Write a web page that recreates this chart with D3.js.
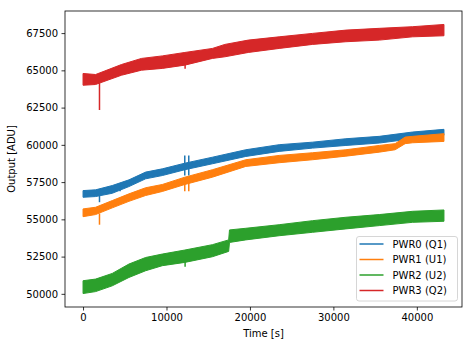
<!DOCTYPE html>
<html>
<head>
<meta charset="utf-8">
<script src="https://cdn.jsdelivr.net/npm/d3@7/dist/d3.min.js"></script>
<style>
  html, body { margin: 0; padding: 0; background: #fff; }
  svg { display: block; font-family: "DejaVu Sans", sans-serif; }
</style>
</head>
<body>
<svg id="chart" width="473" height="347"></svg>
<script>
// ---- Data: noise-band envelopes ----
const seriesNames = ["PWR0 (Q1)", "PWR1 (U1)", "PWR2 (U2)", "PWR3 (Q2)"];
const seriesColors = ["#1f77b4", "#ff7f0e", "#2ca02c", "#d62728"];

const pwr0Time = [0, 1500, 3500, 5500, 7500, 9500, 12200, 15500, 19500, 23500, 27500, 31500, 35500, 39500, 43250];
const pwr0Low  = [56480, 56530, 56750, 57200, 57720, 57940, 58330, 58730, 59220, 59560, 59780, 59960, 60120, 60410, 60640];
const pwr0High = [56930, 56980, 57270, 57650, 58170, 58390, 58770, 59170, 59670, 60010, 60180, 60410, 60570, 60860, 61040];

const pwr1Time = [0, 1500, 3500, 5500, 7500, 9500, 12200, 15500, 19500, 23500, 27500, 31500, 35500, 37400, 38600, 39500, 43250];
const pwr1Low  = [55180, 55320, 55770, 56210, 56600, 56870, 57340, 57830, 58550, 58800, 59000, 59240, 59510, 59670, 60080, 60140, 60230];
const pwr1High = [55700, 55810, 56260, 56710, 57120, 57340, 57830, 58330, 59000, 59290, 59470, 59670, 59960, 60080, 60520, 60570, 60750];

const pwr2Time = [0, 1500, 3500, 5500, 7500, 9500, 12200, 15500, 17450, 17550, 19500, 23500, 27500, 31500, 35500, 39500, 43250];
const pwr2Low  = [50020, 50150, 50540, 51100, 51550, 51890, 52110, 52490, 52850, 53450, 53620, 53900, 54130, 54360, 54580, 54800, 54870];
const pwr2High = [50880, 50990, 51370, 52000, 52440, 52670, 52940, 53300, 53620, 54290, 54400, 54640, 54910, 55140, 55320, 55540, 55630];

const pwr3Time = [0, 1500, 4600, 7000, 9500, 12200, 15500, 17000, 19800, 23500, 27500, 31500, 35500, 39500, 43250];
const pwr3Low  = [64000, 64050, 64670, 65010, 65130, 65350, 65800, 65910, 66200, 66470, 66740, 66920, 67030, 67250, 67320];
const pwr3High = [64790, 64720, 65390, 65800, 65970, 66200, 66470, 66740, 67030, 67250, 67480, 67700, 67820, 67930, 68080];

// Short glitches (vertical spikes): time, lower end, upper end
const pwr0SpikeTime = [1970, 4440, 12190, 12670];
const pwr0SpikeLow  = [56150, 56890, 57940, 57940];
const pwr0SpikeHigh = [56700, 57300, 59290, 59290];
const pwr1SpikeTime = [1970, 12190, 12670];
const pwr1SpikeLow  = [54640, 56880, 56880];
const pwr1SpikeHigh = [55400, 57600, 57600];
const pwr2SpikeTime = [12230];
const pwr2SpikeLow  = [51820];
const pwr2SpikeHigh = [52300];
const pwr3SpikeTime = [1970, 12230];
const pwr3SpikeLow  = [62340, 65100];
const pwr3SpikeHigh = [64300, 65500];

const xTicks = [0, 10000, 20000, 30000, 40000];
const yTicks = [50000, 52500, 55000, 57500, 60000, 62500, 65000, 67500];
const xLabel = "Time [s]";
const yLabel = "Output [ADU]";

// ---- Build series ----
function band(t, lo, hi) { return t.map((d, i) => ({t: d, lo: lo[i], hi: hi[i]})); }
function spikes(t, lo, hi) { return t.map((d, i) => ({t: d, lo: lo[i], hi: hi[i]})); }
const series = [
  {name: seriesNames[0], color: seriesColors[0], band: band(pwr0Time, pwr0Low, pwr0High), spikes: spikes(pwr0SpikeTime, pwr0SpikeLow, pwr0SpikeHigh)},
  {name: seriesNames[1], color: seriesColors[1], band: band(pwr1Time, pwr1Low, pwr1High), spikes: spikes(pwr1SpikeTime, pwr1SpikeLow, pwr1SpikeHigh)},
  {name: seriesNames[2], color: seriesColors[2], band: band(pwr2Time, pwr2Low, pwr2High), spikes: spikes(pwr2SpikeTime, pwr2SpikeLow, pwr2SpikeHigh)},
  {name: seriesNames[3], color: seriesColors[3], band: band(pwr3Time, pwr3Low, pwr3High), spikes: spikes(pwr3SpikeTime, pwr3SpikeLow, pwr3SpikeHigh)}
];

// ---- Layout ----
const L = 65, R = 462, T = 11, B = 307;
const svg = d3.select("#chart");

const allT = series.flatMap(s => s.band.map(d => d.t));
const allV = series.flatMap(s => s.band.flatMap(d => [d.lo, d.hi]).concat(s.spikes.flatMap(d => [d.lo, d.hi])));
const tMin = d3.min(allT), tMax = d3.max(allT);
const vMin = d3.min(allV), vMax = d3.max(allV);
const tPad = (tMax - tMin) * 0.05, vPad = (vMax - vMin) * 0.05;

const x = d3.scaleLinear().domain([tMin - tPad, tMax + tPad]).range([L, R]);
const y = d3.scaleLinear().domain([vMin - vPad, vMax + vPad]).range([B, T]);

const plot = svg.append("g");
plot.append("clipPath").attr("id", "clip").append("rect")
  .attr("x", L).attr("y", T).attr("width", R - L).attr("height", B - T);
const g = plot.append("g").attr("clip-path", "url(#clip)");

const area = d3.area().x(d => x(d.t)).y0(d => y(d.lo)).y1(d => y(d.hi));

series.forEach(s => {
  g.append("path").datum(s.band)
    .attr("d", area)
    .attr("fill", s.color)
    .attr("stroke", s.color)
    .attr("stroke-width", 1)
    .attr("stroke-linejoin", "round");
  g.selectAll(null).data(s.spikes).enter().append("line")
    .attr("x1", d => x(d.t)).attr("x2", d => x(d.t))
    .attr("y1", d => y(d.lo)).attr("y2", d => y(d.hi))
    .attr("stroke", s.color).attr("stroke-width", 1.5);
});

// ---- Axes ----
const xAxis = d3.axisBottom(x).tickValues(xTicks).tickFormat(d3.format("d")).tickSize(3.5).tickPadding(3.5);
const yAxis = d3.axisLeft(y).tickValues(yTicks).tickFormat(d3.format("d")).tickSize(3.5).tickPadding(3.5);

const gx = svg.append("g").attr("transform", `translate(0,${B})`).call(xAxis);
const gy = svg.append("g").attr("transform", `translate(${L},0)`).call(yAxis);
[gx, gy].forEach(ax => {
  ax.select(".domain").remove();
  ax.selectAll(".tick line").attr("stroke", "#000").attr("stroke-width", 0.8);
  ax.selectAll(".tick text").attr("fill", "#000").style("font-size", "10px").style("font-family", "DejaVu Sans, sans-serif");
});

// spines
svg.append("rect").attr("x", L).attr("y", T).attr("width", R - L).attr("height", B - T)
  .attr("fill", "none").attr("stroke", "#000").attr("stroke-width", 0.8);

// axis labels
svg.append("text").attr("x", (L + R) / 2).attr("y", 337)
  .attr("text-anchor", "middle").style("font-size", "10px").attr("fill", "#000").text(xLabel);
svg.append("text").attr("transform", `translate(15,${(T + B) / 2}) rotate(-90)`)
  .attr("text-anchor", "middle").style("font-size", "10px").attr("fill", "#000").text(yLabel);

// ---- Legend ----
const lg = svg.append("g");
lg.append("rect").attr("x", 356.5).attr("y", 236.5).attr("width", 101).attr("height", 64.5)
  .attr("rx", 2.5).attr("ry", 2.5)
  .attr("fill", "#fff").attr("fill-opacity", 0.8)
  .attr("stroke", "#cccccc").attr("stroke-width", 0.8);
series.forEach((s, i) => {
  const yy = 244 + i * 15.5;
  lg.append("line").attr("x1", 359.5).attr("x2", 383.5).attr("y1", yy).attr("y2", yy)
    .attr("stroke", s.color).attr("stroke-width", 1.5);
  lg.append("text").attr("x", 392.5).attr("y", yy + 3.6)
    .style("font-size", "10px").attr("fill", "#000").text(s.name);
});
</script>
</body>
</html>
